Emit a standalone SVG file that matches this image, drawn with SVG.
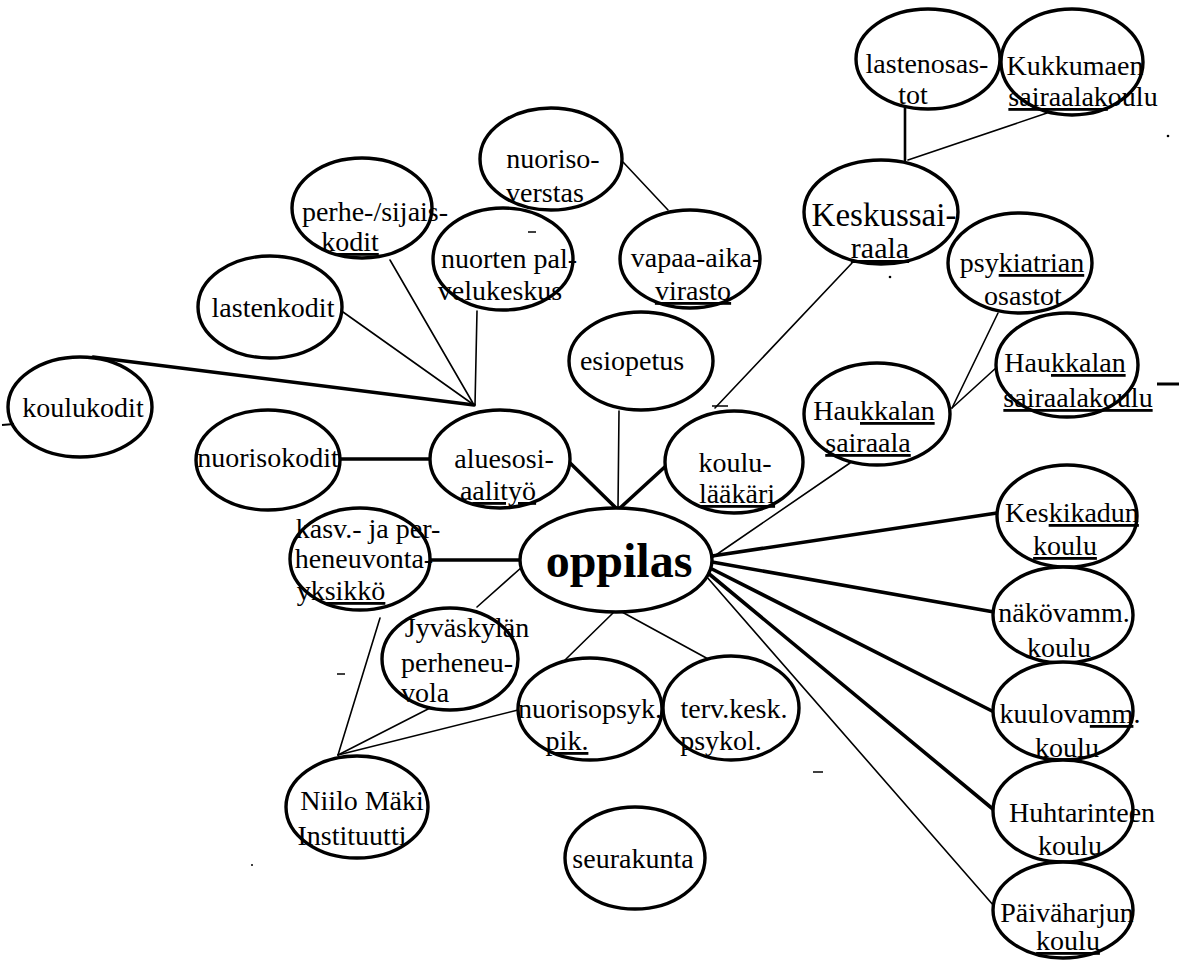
<svg xmlns="http://www.w3.org/2000/svg" width="1179" height="963" viewBox="0 0 1179 963">
  <style>
    .node ellipse { fill: #fff; stroke: #000; stroke-width: 3.4; }
    .node text { font-family: "Liberation Serif", "Times New Roman", serif; font-size: 28px; fill: #000; text-anchor: middle; }
    .u { text-decoration: underline; }
    #edges line { stroke: #000; stroke-linecap: round; }
    #edges .thin { stroke-width: 1.6; }
    #edges .mid { stroke-width: 2.6; }
    #edges .thick { stroke-width: 3.6; }
    #marks line { stroke: #000; stroke-width: 1.5; }
    #marks circle { fill: #000; }
  </style>
  <rect width="1179" height="963" fill="#fff"/>

  <!-- connectors -->
  <g id="edges">
    <line class="mid" x1="905" y1="108" x2="905" y2="160"/>
    <line class="thin" x1="1047" y1="113" x2="908" y2="160"/>
    <line class="thin" x1="623" y1="162" x2="668" y2="210"/>
    <line class="thin" x1="852" y1="263" x2="715" y2="408"/>
    <line class="thin" x1="343" y1="312" x2="474" y2="405"/>
    <line class="thin" x1="390" y1="260" x2="474" y2="405"/>
    <line class="thin" x1="477" y1="311" x2="475" y2="405"/>
    <line class="thick" x1="93" y1="357" x2="474" y2="405"/>
    <line class="thick" x1="340" y1="459" x2="430" y2="459"/>
    <line class="thick" x1="566" y1="459" x2="616" y2="508"/>
    <line class="thin" x1="619" y1="411" x2="618" y2="508"/>
    <line class="thick" x1="668" y1="464" x2="620" y2="508"/>
    <line class="thin" x1="850" y1="463" x2="713" y2="557"/>
    <line class="thin" x1="998" y1="313" x2="952" y2="408"/>
    <line class="thin" x1="997" y1="367" x2="952" y2="408"/>
    <line class="thick" x1="712" y1="556" x2="997" y2="513"/>
    <line class="thick" x1="712" y1="562" x2="994" y2="612"/>
    <line class="thick" x1="710" y1="568" x2="994" y2="712"/>
    <line class="thick" x1="708" y1="573" x2="994" y2="810"/>
    <line class="thin" x1="706" y1="576" x2="994" y2="906"/>
    <line class="thick" x1="430" y1="560" x2="520" y2="560"/>
    <line class="thin" x1="522" y1="567" x2="477" y2="607"/>
    <line class="thin" x1="380" y1="618" x2="338" y2="755"/>
    <line class="thin" x1="430" y1="708" x2="338" y2="755"/>
    <line class="thin" x1="518" y1="710" x2="338" y2="755"/>
    <line class="thin" x1="613" y1="613" x2="565" y2="660"/>
    <line class="thin" x1="622" y1="612" x2="710" y2="660"/>
  </g>

  <!-- nodes -->
  <g id="n-lastenosastot" class="node">
    <ellipse cx="928" cy="59" rx="72" ry="50"/>
    <text x="927" y="73">lastenosas-</text>
    <text x="913" y="104">tot</text>
  </g>
  <g id="n-kukkumaen" class="node">
    <ellipse cx="1072" cy="62" rx="71" ry="53"/>
    <text x="1075" y="75">Kukkumaen</text>
    <text x="1083" y="106"><tspan class="u">sairaalak</tspan>oulu</text>
  </g>
  <g id="n-keskussairaala" class="node">
    <ellipse cx="881" cy="212" rx="77" ry="52"/>
    <text x="884" y="226" style="font-size:33px">Keskussai-</text>
    <text x="880" y="258" class="u" style="font-size:30px">raala</text>
  </g>
  <g id="n-psykiatrian" class="node">
    <ellipse cx="1020" cy="263" rx="72" ry="50"/>
    <text x="1022" y="272">psy<tspan class="u">kiatrian</tspan></text>
    <text x="1023" y="305">osastot</text>
  </g>
  <g id="n-nuorisoverstas" class="node">
    <ellipse cx="551" cy="159" rx="71" ry="51"/>
    <text x="553" y="168">nuoriso-</text>
    <text x="545" y="202">verstas</text>
  </g>
  <g id="n-perhekodit" class="node">
    <ellipse cx="362" cy="208" rx="70" ry="50"/>
    <text x="375" y="221">perhe-/sijais-</text>
    <text x="350" y="251">k<tspan class="u">odit</tspan></text>
  </g>
  <g id="n-nuortenpalvelu" class="node">
    <ellipse cx="503" cy="259" rx="70" ry="51"/>
    <text x="509" y="268">nuorten pal-</text>
    <text x="500" y="300">velukeskus</text>
  </g>
  <g id="n-vapaaaika" class="node">
    <ellipse cx="690" cy="259" rx="70" ry="49"/>
    <text x="696" y="267">vapaa-aika-</text>
    <text x="693" y="300" class="u">virasto</text>
  </g>
  <g id="n-lastenkodit" class="node">
    <ellipse cx="270" cy="307" rx="72" ry="51"/>
    <text x="273" y="317">lastenkodit</text>
  </g>
  <g id="n-esiopetus" class="node">
    <ellipse cx="641" cy="361" rx="72" ry="49"/>
    <text x="632" y="370">esiopetus</text>
  </g>
  <g id="n-koulukodit" class="node">
    <ellipse cx="80" cy="407" rx="72" ry="50"/>
    <text x="83" y="417">koulukodit</text>
  </g>
  <g id="n-nuorisokodit" class="node">
    <ellipse cx="268" cy="460" rx="72" ry="50"/>
    <text x="268" y="467">nuorisokodit</text>
  </g>
  <g id="n-aluesosiaalityo" class="node">
    <ellipse cx="500" cy="459" rx="70" ry="49"/>
    <text x="504" y="468">aluesosi-</text>
    <text x="498" y="500">a<tspan class="u">alityö</tspan></text>
  </g>
  <g id="n-koululaakari" class="node">
    <ellipse cx="734" cy="462" rx="69" ry="51"/>
    <text x="735" y="472">koulu-</text>
    <text x="737" y="503" class="u">lääkäri</text>
  </g>
  <g id="n-haukkalan-sairaala" class="node">
    <ellipse cx="877" cy="414" rx="73" ry="51"/>
    <text x="874" y="420">Hau<tspan class="u">kkalan</tspan></text>
    <text x="868" y="452" class="u">sairaala</text>
  </g>
  <g id="n-haukkalan-koulu" class="node">
    <ellipse cx="1067" cy="365" rx="71" ry="52"/>
    <text x="1065" y="372">Hau<tspan class="u">kkalan</tspan></text>
    <text x="1078" y="407" class="u">sairaalakoulu</text>
  </g>
  <g id="n-oppilas" class="node">
    <ellipse cx="616" cy="560" rx="96" ry="52"/>
    <text x="619" y="577" style="font-size:48px;font-weight:bold">oppilas</text>
  </g>
  <g id="n-kasvatusneuvonta" class="node">
    <ellipse cx="360" cy="559" rx="70" ry="51"/>
    <text x="368" y="538">kasv.- ja per-</text>
    <text x="364" y="568">heneuvonta-</text>
    <text x="341" y="600">yk<tspan class="u">sikkö</tspan></text>
  </g>
  <g id="n-keskikadun" class="node">
    <ellipse cx="1067" cy="516" rx="70" ry="51"/>
    <text x="1072" y="522">Kes<tspan class="u">kikadun</tspan></text>
    <text x="1065" y="555" class="u">koulu</text>
  </g>
  <g id="n-nakovamm" class="node">
    <ellipse cx="1063" cy="615" rx="70" ry="48"/>
    <text x="1064" y="622">näkövamm.</text>
    <text x="1059" y="657">koulu</text>
  </g>
  <g id="n-jyvaskylan" class="node">
    <ellipse cx="450" cy="659" rx="68" ry="51"/>
    <text x="467" y="637">Jyväskylän</text>
    <text x="457" y="672">perheneu-</text>
    <text x="425" y="702">vola</text>
  </g>
  <g id="n-nuorisopsyk" class="node">
    <ellipse cx="590" cy="709" rx="72" ry="51"/>
    <text x="590" y="718">nuorisopsyk.</text>
    <text x="567" y="750" class="u">pik.</text>
  </g>
  <g id="n-tervkesk" class="node">
    <ellipse cx="731" cy="708" rx="68" ry="52"/>
    <text x="734" y="718">terv.kesk.</text>
    <text x="721" y="750">psykol.</text>
  </g>
  <g id="n-kuulovamm" class="node">
    <ellipse cx="1063" cy="711" rx="70" ry="49"/>
    <text x="1070" y="723">kuulova<tspan class="u">mm</tspan>.</text>
    <text x="1067" y="757">koulu</text>
  </g>
  <g id="n-niilomaki" class="node">
    <ellipse cx="357" cy="807" rx="71" ry="51"/>
    <text x="362" y="810">Niilo Mäki</text>
    <text x="352" y="845">Instituutti</text>
  </g>
  <g id="n-huhtarinteen" class="node">
    <ellipse cx="1063" cy="811" rx="70" ry="51"/>
    <text x="1082" y="822">Huhtarinteen</text>
    <text x="1070" y="855">koulu</text>
  </g>
  <g id="n-seurakunta" class="node">
    <ellipse cx="635" cy="858" rx="70" ry="51"/>
    <text x="633" y="868">seurakunta</text>
  </g>
  <g id="n-paivaharjun" class="node">
    <ellipse cx="1063" cy="910" rx="70" ry="48"/>
    <text x="1067" y="922">Päiväharjun</text>
    <text x="1068" y="950" class="u">koulu</text>
  </g>

  <!-- loose specks and dashes -->
  <g id="marks">
    <line x1="2" y1="425" x2="14" y2="424" style="stroke-width:2"/>
    <line x1="528" y1="232" x2="536" y2="232"/>
    <line x1="1157" y1="384" x2="1179" y2="384" style="stroke-width:3"/>
    <line x1="337" y1="674" x2="345" y2="674"/>
    <line x1="813" y1="772" x2="823" y2="772"/>
    <line x1="712" y1="406" x2="728" y2="406"/>
    <circle cx="890" cy="277" r="1.3"/>
    <circle cx="1168" cy="136" r="1.3"/>
    <circle cx="252" cy="865" r="1"/>
  </g>
</svg>
